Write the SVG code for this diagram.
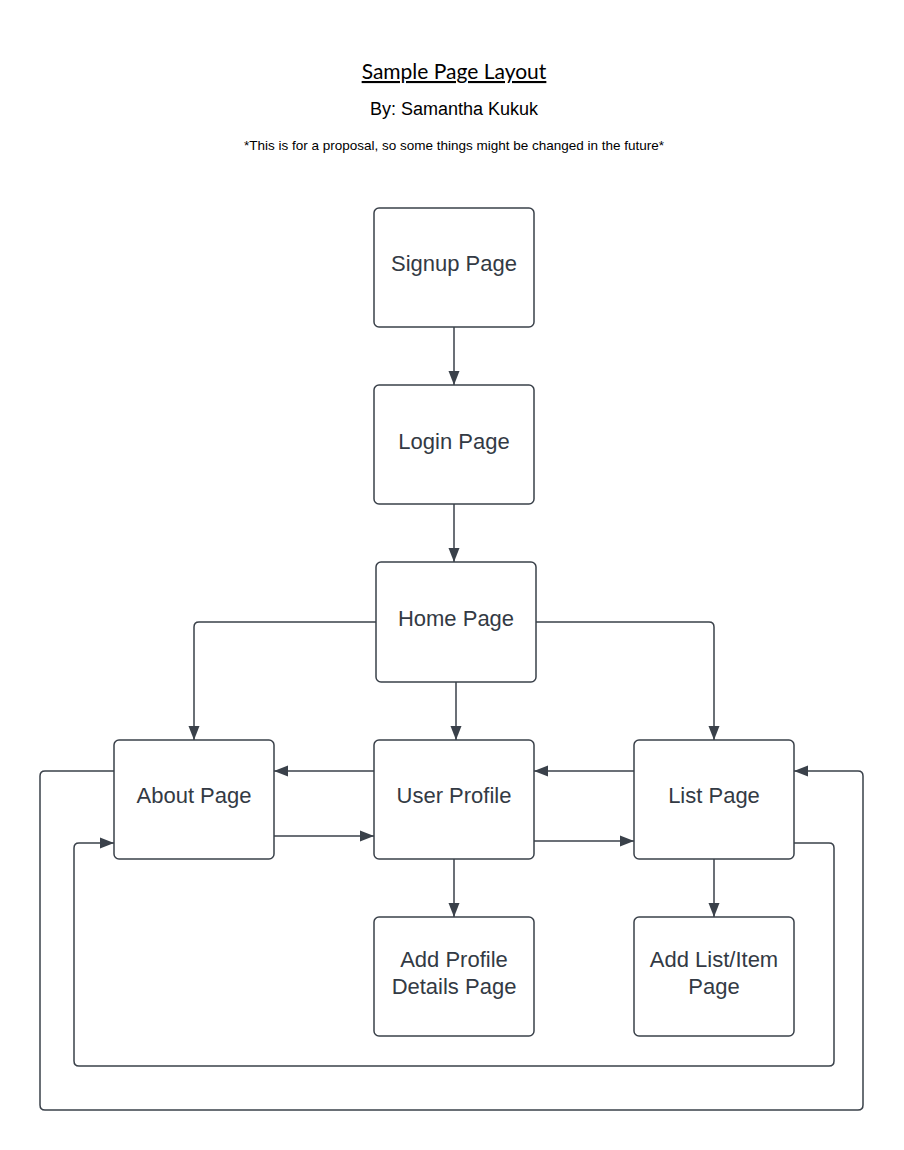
<svg xmlns="http://www.w3.org/2000/svg" width="904" height="1150" viewBox="0 0 904 1150">
<style>
.box{fill:#ffffff;stroke:#3a414a;stroke-width:1.5}
.lbl{font-family:"Liberation Sans",Arial,sans-serif;font-size:22px;fill:#333a44;text-anchor:middle}
.con{fill:none;stroke:#3a414a;stroke-width:1.5;marker-end:url(#ah)}
</style>
<defs>
<marker id="ah" markerUnits="userSpaceOnUse" markerWidth="16" markerHeight="12" refX="14" refY="6" orient="auto">
<path d="M0 0.5 L14 6 L0 11.5 Z" fill="#3a414a"/>
</marker>
</defs>
<rect width="904" height="1150" fill="#ffffff"/>
<g id="title">
<text x="454" y="79" font-family="Lato,'Liberation Sans',sans-serif" font-size="21" fill="#000" text-anchor="middle" text-decoration="underline">Sample Page Layout</text>
<text x="454" y="115" font-family="'Liberation Sans',Arial,sans-serif" font-size="18" fill="#000" text-anchor="middle">By: Samantha Kukuk</text>
<text x="454" y="150" font-family="'Liberation Sans',Arial,sans-serif" font-size="13.5" fill="#000" text-anchor="middle">*This is for a proposal, so some things might be changed in the future*</text>
</g>
<g id="connectors">
<path class="con" d="M454 327 V385"/>
<path class="con" d="M454 504 V562"/>
<path class="con" d="M376 622 H199 Q194 622 194 627 V740"/>
<path class="con" d="M536 622 H709 Q714 622 714 627 V740"/>
<path class="con" d="M456 682 V740"/>
<path class="con" d="M374 771 H274"/>
<path class="con" d="M274 836 H374"/>
<path class="con" d="M634 771 H534"/>
<path class="con" d="M534 841 H634"/>
<path class="con" d="M454 859 V917"/>
<path class="con" d="M714 859 V917"/>
<path class="con" d="M114 771 H45 Q40 771 40 776 V1105 Q40 1110 45 1110 H858 Q863 1110 863 1105 V776 Q863 771 858 771 H794"/>
<path class="con" d="M794 843 H829 Q834 843 834 848 V1061 Q834 1066 829 1066 H79 Q74 1066 74 1061 V848 Q74 843 79 843 H114"/>
</g>
<g id="signup">
<rect class="box" x="374" y="208" width="160" height="119" rx="5"/>
<text class="lbl" x="454" y="271">Signup Page</text>
</g>
<g id="login">
<rect class="box" x="374" y="385" width="160" height="119" rx="5"/>
<text class="lbl" x="454" y="449">Login Page</text>
</g>
<g id="home">
<rect class="box" x="376" y="562" width="160" height="120" rx="5"/>
<text class="lbl" x="456" y="626">Home Page</text>
</g>
<g id="about">
<rect class="box" x="114" y="740" width="160" height="119" rx="5"/>
<text class="lbl" x="194" y="803">About Page</text>
</g>
<g id="userprofile">
<rect class="box" x="374" y="740" width="160" height="119" rx="5"/>
<text class="lbl" x="454" y="803">User Profile</text>
</g>
<g id="list">
<rect class="box" x="634" y="740" width="160" height="119" rx="5"/>
<text class="lbl" x="714" y="803">List Page</text>
</g>
<g id="addprofile">
<rect class="box" x="374" y="917" width="160" height="119" rx="5"/>
<text class="lbl" x="454" y="967">Add Profile</text>
<text class="lbl" x="454" y="994">Details Page</text>
</g>
<g id="addlist">
<rect class="box" x="634" y="917" width="160" height="119" rx="5"/>
<text class="lbl" x="714" y="967">Add List/Item</text>
<text class="lbl" x="714" y="994">Page</text>
</g>
</svg>
